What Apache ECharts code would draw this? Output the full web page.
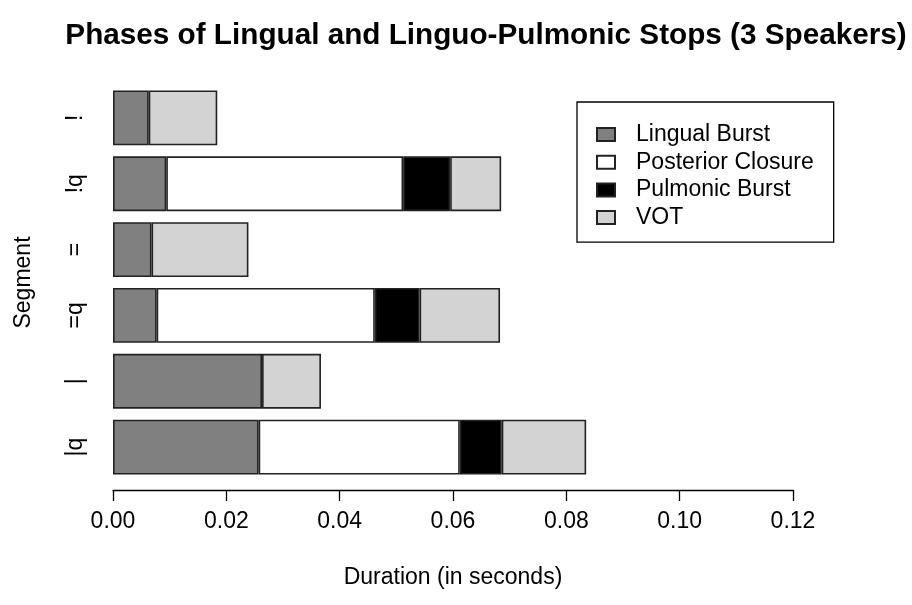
<!DOCTYPE html>
<html>
<head>
	<meta charset="utf-8">
	<title>Phases of Lingual and Linguo-Pulmonic Stops</title>
	<script type="text/javascript" src="https://cdn.jsdelivr.net/npm/echarts@6/dist/echarts.min.js"></script>
	<style>
		html, body { margin: 0; padding: 0; background: #fff; }
		#chart { width: 912px; height: 605px; }
	</style>
</head>
<body>
	<div id="chart"></div>
	<script type="text/javascript">
		// segments, bottom to top (echarts puts the first category at the bottom)
		const segments = ['|q', '|', '=q', '=', '!q', '!'];
		// durations in seconds
		const lingualBurst = [0.0257, 0.0263, 0.0077, 0.0068, 0.0094, 0.0063];
		const posteriorClosure = [0.0355, null, 0.0385, null, 0.0418, null];
		const pulmonicBurst = [0.0074, null, 0.0079, null, 0.0083, null];
		const vot = [0.0149, 0.0104, 0.0142, 0.0171, 0.0090, 0.0121];

		const FONT = '"Liberation Sans", Arial, sans-serif';

		function phase(name, data, color) {
			return {
				name: name,
				type: 'bar',
				stack: 'dur',
				data: data,
				barCategoryGap: '16.7%',
				itemStyle: { color: color, borderColor: '#222', borderWidth: 1.6 },
				emphasis: { disabled: true }
			};
		}

		const options = {
			animation: false,
			textStyle: { fontFamily: FONT },
			title: {
				text: 'Phases of Lingual and Linguo-Pulmonic Stops (3 Speakers)',
				left: 481,
				top: 16,
				textAlign: 'center',
				textStyle: { fontFamily: FONT, fontSize: 29.7, fontWeight: 'bold', color: '#000' }
			},
			legend: {
				orient: 'vertical',
				left: 577,
				top: 102,
				padding: [21, 20, 13, 19],
				itemGap: 4.7,
				itemWidth: 18,
				itemHeight: 13,
				borderColor: '#000',
				borderWidth: 1.3,
				icon: 'rect',
				selectedMode: false,
				textStyle: { fontFamily: FONT, fontSize: 23, color: '#000', padding: [0, 0, 0, 16] },
				data: ['Lingual Burst', 'Posterior Closure', 'Pulmonic Burst', 'VOT']
			},
			grid: { left: 113, right: 119, top: 85, bottom: 125, containLabel: false },
			xAxis: {
				type: 'value',
				min: 0,
				max: 0.12,
				interval: 0.02,
				offset: 10,
				name: 'Duration (in seconds)',
				nameLocation: 'middle',
				nameGap: 76,
				nameTextStyle: { fontFamily: FONT, fontSize: 23, color: '#000' },
				axisLine: { show: true, lineStyle: { color: '#000', width: 1.3 } },
				axisTick: { show: true, length: 11, lineStyle: { color: '#000', width: 1.3 } },
				axisLabel: {
					margin: 20,
					fontFamily: FONT,
					fontSize: 23,
					color: '#000',
					formatter: function (v) { return v.toFixed(2); }
				},
				splitLine: { show: false }
			},
			yAxis: {
				type: 'category',
				data: segments,
				name: 'Segment',
				nameLocation: 'middle',
				nameRotate: 90,
				nameGap: 78,
				nameTextStyle: { fontFamily: FONT, fontSize: 23, color: '#000' },
				axisLine: { show: false },
				axisTick: { show: false },
				axisLabel: { rotate: 90, margin: 26, fontFamily: FONT, fontSize: 23, color: '#000' }
			},
			series: [
				phase('Lingual Burst', lingualBurst, '#808080'),
				phase('Posterior Closure', posteriorClosure, '#ffffff'),
				phase('Pulmonic Burst', pulmonicBurst, '#000000'),
				phase('VOT', vot, '#d3d3d3')
			]
		};

		const myChart = echarts.init(document.getElementById('chart'));
		myChart.setOption(options);
	</script>
</body>
</html>
